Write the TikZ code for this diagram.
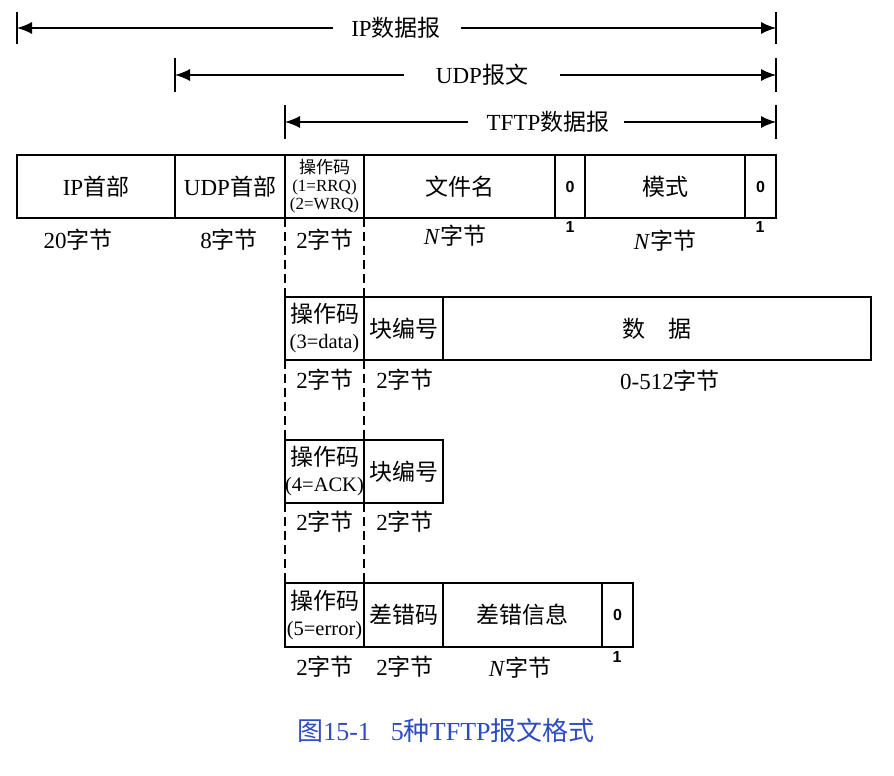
\documentclass[tikz,border=0pt]{standalone}
\usepackage{fontspec}
\setmainfont{Liberation Serif}
\newfontfamily\zh{Noto Sans CJK SC}
\newfontfamily\bsans{Liberation Sans}
\usetikzlibrary{arrows.meta}
\definecolor{capblue}{RGB}{45,75,195}
\newcommand\opline[1]{{\fontsize{20.5}{24}\selectfont #1}}
\tikzset{
  field/.style={draw, line width=1.4pt, anchor=north west, inner sep=0pt, outer sep=0pt,
    align=center, font=\fontsize{23}{25}\selectfont},
  row/.style={minimum height=63pt},
  small/.style={font=\fontsize{17}{18}\selectfont},
  opc/.style={font=\fontsize{23}{26}\selectfont},
  zero/.style={font=\bsans\bfseries\fontsize{16}{17}\selectfont},
  lab/.style={inner sep=0pt, font=\fontsize{23}{25}\selectfont},
  one/.style={inner sep=0pt, font=\bsans\bfseries\fontsize{16}{17}\selectfont},
  tick/.style={line width=1.6pt},
  dimline/.style={line width=1.3pt, -{Latex[length=15pt,width=12pt]}},
  dimlab/.style={inner sep=0pt, font=\fontsize{23}{25}\selectfont},
  guide/.style={line width=1.1pt, dash pattern=on 9pt off 5pt},
}
\begin{document}
\begin{tikzpicture}[x=1pt,y=-1pt]
\useasboundingbox (0,0) rectangle (894,776);

% ---------- dimension arrows ----------
\coordinate (ipL) at (17,28);   \coordinate (ipR) at (776,28);
\coordinate (udpL) at (175,75); \coordinate (udpR) at (776,75);
\coordinate (tfL) at (285,122); \coordinate (tfR) at (776,122);
\coordinate (ipLt) at (17,12);  \coordinate (ipLb) at (17,44);
\coordinate (ipRt) at (776,12); \coordinate (ipRb) at (776,44);
\coordinate (udpLt) at (175,58); \coordinate (udpLb) at (175,92);
\coordinate (udpRt) at (776,58); \coordinate (udpRb) at (776,92);
\coordinate (tfLt) at (285,105); \coordinate (tfLb) at (285,139);
\coordinate (tfRt) at (776,105); \coordinate (tfRb) at (776,139);
\draw[tick] (ipLt) -- (ipLb);  \draw[tick] (ipRt) -- (ipRb);
\draw[tick] (udpLt) -- (udpLb); \draw[tick] (udpRt) -- (udpRb);
\draw[tick] (tfLt) -- (tfLb);  \draw[tick] (tfRt) -- (tfRb);

\node[dimlab] (iplab) at (396,28) {IP{\zh 数据报}};
\node[dimlab] (udplab) at (482,75) {UDP{\zh 报文}};
\node[dimlab] (tflab) at (548,122) {TFTP{\zh 数据报}};
\draw[dimline] ([xshift=-18pt]iplab.west) -- (ipL);
\draw[dimline] ([xshift=20pt]iplab.east) -- (ipR);
\draw[dimline] ([xshift=-32pt]udplab.west) -- (udpL);
\draw[dimline] ([xshift=32pt]udplab.east) -- (udpR);
\draw[dimline] ([xshift=-18pt]tflab.west) -- (tfL);
\draw[dimline] ([xshift=14pt]tflab.east) -- (tfR);

% ---------- row 1: RRQ / WRQ ----------
\node[field,row,minimum width=158pt] (ip) at (17,155) {IP{\zh 首部}};
\node[field,row,minimum width=110pt] (udp) at (175,155) {UDP{\zh 首部}};
\node[field,row,minimum width=79pt,small] (op1) at (285,155) {{\zh 操作码}\\(1=RRQ)\\(2=WRQ)};
\node[field,row,minimum width=191pt] (fn) at (364,155) {\zh 文件名};
\node[field,row,minimum width=30pt,zero] (z1) at (555,155) {0};
\node[field,row,minimum width=160pt] (mode) at (585,155) {\zh 模式};
\node[field,row,minimum width=31pt,zero] (z2) at (745,155) {0};

\node[lab] (l1a) at (78,240) {20{\zh 字节}};
\node[lab] (l1b) at (229,240) {8{\zh 字节}};
\node[lab] (l1c) at (325,240) {2{\zh 字节}};
\node[lab] (l1d) at (455,236) {\textit{N}{\zh 字节}};
\node[one] (l1e) at (570,227) {1};
\node[lab] (l1f) at (665,241) {\textit{N}{\zh 字节}};
\node[one] (l1g) at (760,227) {1};

% ---------- row 2: DATA ----------
\node[field,row,minimum width=79pt,opc] (op2) at (285,297) {{\zh 操作码}\\\opline{(3=data)}};
\node[field,row,minimum width=79pt] (blk2) at (364,297) {\zh 块编号};
\node[field,row,minimum width=428pt] (data) at (443,297) {{\zh 数}\hspace{1em}{\zh 据}};

\node[lab] (l2a) at (325,380) {2{\zh 字节}};
\node[lab] (l2b) at (405,380) {2{\zh 字节}};
\node[lab] (l2c) at (670,381) {0-512{\zh 字节}};

% ---------- row 3: ACK ----------
\node[field,row,minimum width=79pt,opc] (op3) at (285,440) {{\zh 操作码}\\\opline{(4=ACK)}};
\node[field,row,minimum width=79pt] (blk3) at (364,440) {\zh 块编号};

\node[lab] (l3a) at (325,522) {2{\zh 字节}};
\node[lab] (l3b) at (405,522) {2{\zh 字节}};

% ---------- row 4: ERROR ----------
\node[field,minimum height=64pt,minimum width=79pt,opc] (op4) at (285,583) {{\zh 操作码}\\\opline{(5=error)}};
\node[field,minimum height=64pt,minimum width=79pt] (err) at (364,583) {\zh 差错码};
\node[field,minimum height=64pt,minimum width=159pt] (msg) at (443,583) {\zh 差错信息};
\node[field,minimum height=64pt,minimum width=31pt,zero] (z3) at (602,583) {0};

\node[lab] (l4a) at (325,667) {2{\zh 字节}};
\node[lab] (l4b) at (405,667) {2{\zh 字节}};
\node[lab] (l4c) at (520,668) {\textit{N}{\zh 字节}};
\node[one] (l4d) at (617,657) {1};

% ---------- dashed guides ----------
\draw[guide] (op1.south west) -- (op2.north west);
\draw[guide] (op2.south west) -- (op3.north west);
\draw[guide] (op3.south west) -- (op4.north west);
\draw[guide] (op1.south east) -- (op2.north east);
\draw[guide] (op2.south east) -- (op3.north east);
\draw[guide] (op3.south east) -- (op4.north east);

% ---------- caption ----------
\node[inner sep=0pt, text=capblue, font=\fontsize{26}{28}\selectfont] (cap) at (446,731)
  {{\zh 图}15-1\hspace{20pt}5{\zh 种}TFTP{\zh 报文格式}};
\end{tikzpicture}
\end{document}
